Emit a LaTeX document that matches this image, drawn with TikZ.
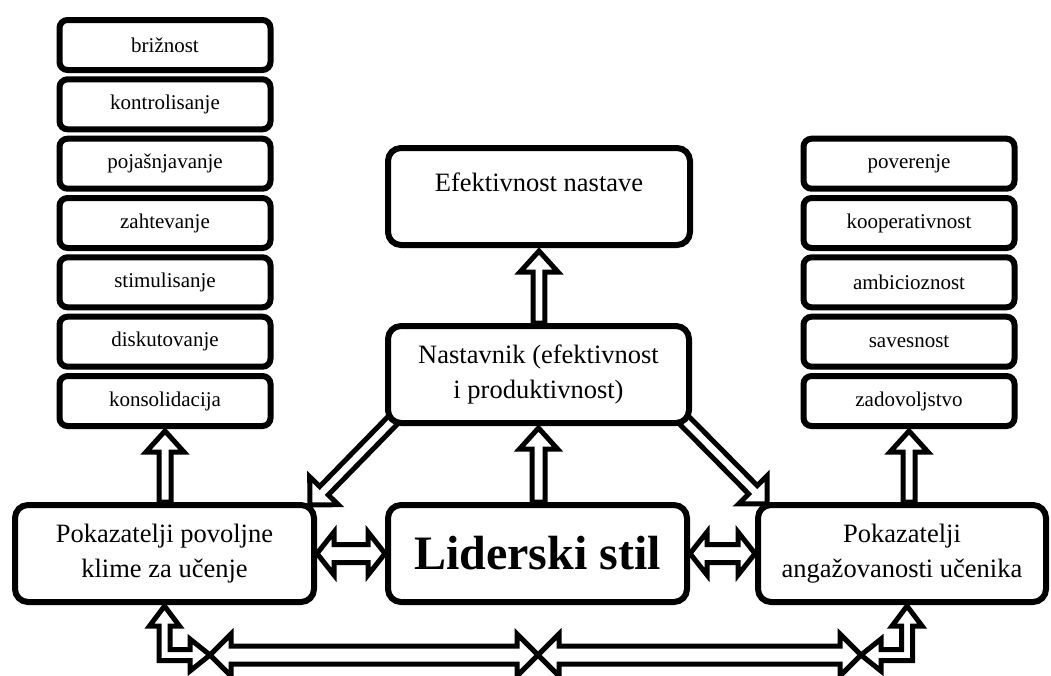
\documentclass[tikz,border=0pt]{standalone}
\usepackage{fontspec}
\setmainfont{Liberation Serif}
\usetikzlibrary{calc,backgrounds}
\tikzset{
  smallbox/.style={draw, line width=6pt, rounded corners=8pt, fill=white,
    minimum width=211pt, minimum height=50pt, inner sep=0pt,
    font=\fontsize{21}{25}\selectfont},
  bigbox/.style={draw, line width=6pt, rounded corners=13pt, fill=white,
    minimum height=97pt, inner sep=0pt, align=center,
    font=\fontsize{26.5}{35}\selectfont},
  blockarr/.style={draw, line width=5pt, fill=white, line join=miter},
}
% single block arrow: start, tip, shaft half width, head half width, head length
\newcommand\blockarrow[5]{%
  \coordinate (baS) at (#1); \coordinate (baT) at (#2);
  \coordinate (baH) at ($(baT)!#5!(baS)$);
  \draw[blockarr] ($(baS)!#3!90:(baT)$) -- ($(baH)!#3!-90:(baS)$)
    -- ($(baH)!#4!-90:(baS)$) -- (baT) -- ($(baH)!#4!90:(baS)$)
    -- ($(baH)!#3!90:(baS)$) -- ($(baS)!#3!-90:(baT)$) -- cycle;}
% double block arrow: tip A, tip B, shaft half width, head half width, head length
\newcommand\dblockarrow[5]{%
  \coordinate (dA) at (#1); \coordinate (dB) at (#2);
  \coordinate (dHA) at ($(dA)!#5!(dB)$); \coordinate (dHB) at ($(dB)!#5!(dA)$);
  \draw[blockarr] (dA) -- ($(dHA)!#4!90:(dB)$) -- ($(dHA)!#3!90:(dB)$)
    -- ($(dHB)!#3!-90:(dA)$) -- ($(dHB)!#4!-90:(dA)$) -- (dB)
    -- ($(dHB)!#4!90:(dA)$) -- ($(dHB)!#3!90:(dA)$)
    -- ($(dHA)!#3!-90:(dB)$) -- ($(dHA)!#4!-90:(dB)$) -- cycle;}
\begin{document}
\begin{tikzpicture}[x=1pt, y=-1pt]
\useasboundingbox (0,0) rectangle (1051,675);

% left column
\node[smallbox] (l1) at (165,45) {brižnost};
\node[smallbox] (l2) at (165,104.3) {kontrolisanje};
\node[smallbox] (l3) at (165,163.7) {pojašnjavanje};
\node[smallbox] (l4) at (165,223) {zahtevanje};
\node[smallbox] (l5) at (165,282.3) {stimulisanje};
\node[smallbox] (l6) at (165,341.7) {diskutovanje};
\node[smallbox] (l7) at (165,401) {konsolidacija};

% right column
\node[smallbox] (r1) at (909,163.7) {poverenje};
\node[smallbox] (r2) at (909,223) {kooperativnost};
\node[smallbox] (r3) at (909,282.3) {ambicioznost};
\node[smallbox] (r4) at (909,341.7) {savesnost};
\node[smallbox] (r5) at (909,401) {zadovoljstvo};

% central boxes
\node[bigbox, minimum width=302pt, text height=43pt, text depth=54pt] (efek) at (539,196.5) {Efektivnost nastave};
\node[bigbox, minimum width=301pt] (nast) at (538.5,374.5) {Nastavnik (efektivnost\\i produktivnost)};
\node[bigbox, minimum width=299pt, font=\fontsize{48}{55}\selectfont\bfseries] (lider) at (537.5,553.5) {Liderski stil};
\node[bigbox, minimum width=299pt] (lbox) at (164.5,553.5) {Pokazatelji povoljne\\klime za učenje};
\node[bigbox, minimum width=288pt] (rbox) at (902,553.5) {Pokazatelji\\angažovanosti učenika};

\begin{scope}[on background layer]
  % vertical arrows
  \blockarrow{efek.south |- nast.north}{$(efek.south)+(0,3)$}{5.8pt}{19pt}{21pt}
  \blockarrow{nast.south |- lider.north}{$(nast.south)+(0,2)$}{6.5pt}{19pt}{21pt}
  \blockarrow{l7.south |- lbox.north}{$(l7.south)+(0,2)$}{6pt}{19pt}{21pt}
  \blockarrow{r5.south |- rbox.north}{$(r5.south)+(0,2)$}{6pt}{19pt}{21pt}
  % diagonal arrows
  \blockarrow{$(nast.south west)+(10,-8)$}{$(lbox.north east)+(-7,3)$}{6pt}{20pt}{20pt}
  \blockarrow{$(nast.south east)+(-10,-8)$}{$(rbox.north west)+(12,2)$}{6pt}{20pt}{20pt}
  % horizontal double arrows
  \dblockarrow{lbox.east}{lider.west}{9pt}{21.5pt}{17pt}
  \dblockarrow{lider.east}{rbox.west}{9pt}{21.5pt}{17pt}
  % bottom connection
  \coordinate (b1) at ($(lbox.south)+(45.5,50)$);
  \coordinate (b2) at ($(lider.south)+(0.5,50)$);
  \coordinate (b3) at ($(rbox.south)+(-41,50)$);
  \dblockarrow{b1}{b2}{9pt}{21pt}{21pt}
  \dblockarrow{b2}{b3}{9pt}{21pt}{21pt}
  % left elbow
  \coordinate (e1) at (lbox.south);
  \draw[blockarr] ($(e1)+(0,1)$) -- ($(e1)+(15,21)$) -- ($(e1)+(5.5,21)$)
    -- ($(e1|-b1)+(5.5,-5.5)$) -- ($(b1)+(-20,-5.5)$) -- ($(b1)+(-20,-16)$)
    -- (b1) -- ($(b1)+(-20,16)$) -- ($(b1)+(-20,5.5)$)
    -- ($(e1|-b1)+(-5.5,5.5)$) -- ($(e1)+(-5.5,21)$) -- ($(e1)+(-15,21)$) -- cycle;
  % right elbow
  \coordinate (e3) at ($(rbox.south)+(5,0)$);
  \draw[blockarr] ($(e3)+(0,1)$) -- ($(e3)+(-15,21)$) -- ($(e3)+(-5.5,21)$)
    -- ($(e3|-b3)+(-5.5,-5.5)$) -- ($(b3)+(20,-5.5)$) -- ($(b3)+(20,-16)$)
    -- (b3) -- ($(b3)+(20,16)$) -- ($(b3)+(20,5.5)$)
    -- ($(e3|-b3)+(5.5,5.5)$) -- ($(e3)+(5.5,21)$) -- ($(e3)+(15,21)$) -- cycle;
\end{scope}
\end{tikzpicture}
\end{document}
